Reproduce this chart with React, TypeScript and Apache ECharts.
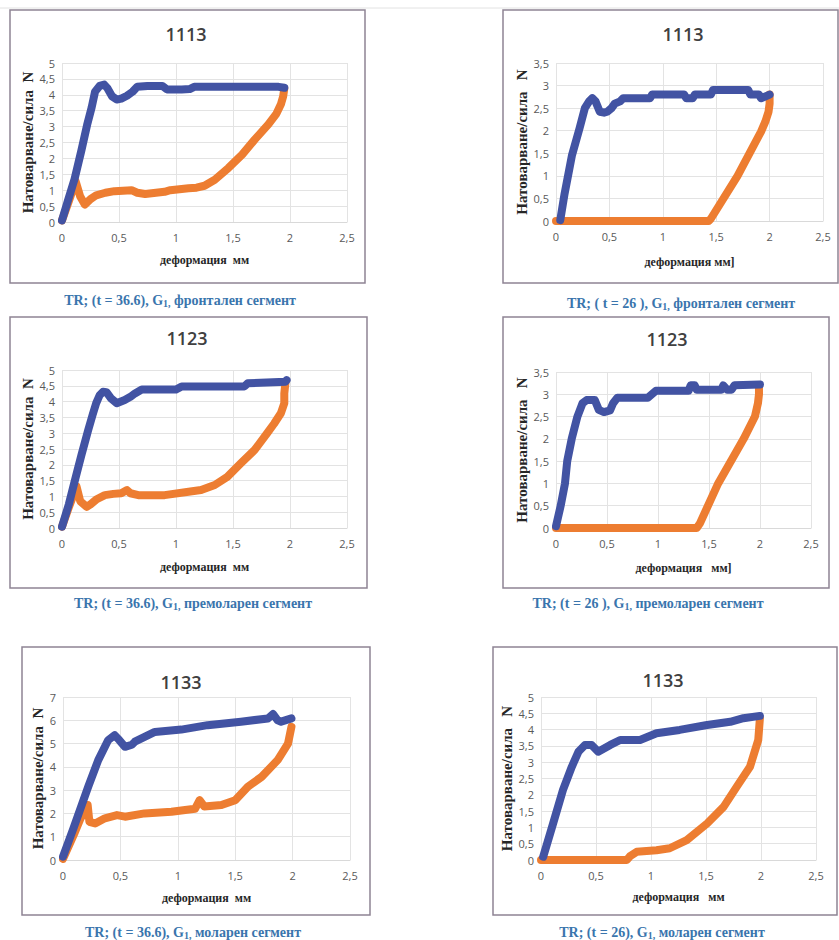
import React, { useEffect, useRef } from "react";
import * as echarts from "echarts";

// ---------- data (deformation mm → load N) ----------
const xTicks = [0, 0.5, 1, 1.5, 2, 2.5];
const titles = ["1113", "1113", "1123", "1123", "1133", "1133"];
const yMaxes = [5, 3.5, 5, 3.5, 7, 5];
const yIntervals = [0.5, 0.5, 0.5, 0.5, 1, 0.5];
const yNames = ["Натоварване/сила  N", "Натоварване/сила   N", "Натоварване/сила  N", "Натоварване/сила   N", "Натоварване/сила  N", "Натоварване/сила   N"];
const xNames = ["деформация  мм", "деформация мм]", "деформация  мм", "деформация   мм]", "деформация  мм", "деформация   мм"];
const captionHeads = ["TR; (t = 36.6), G", "TR; ( t = 26 ), G", "TR; (t = 36.6), G", "TR; (t = 26 ), G", "TR; (t = 36.6), G", "TR; (t = 26), G"];
const captionSubs = ["1,", "1,", "1,", "1,", "1,", "1,"];
const captionTails = [" фронтален сегмент", " фронтален сегмент", " премоларен сегмент", " премоларен сегмент", " моларен сегмент", " моларен сегмент"];

const p1LoadX = [0, 0.05, 0.11, 0.17, 0.22, 0.26, 0.29, 0.33, 0.37, 0.40, 0.44, 0.48, 0.52, 0.57, 0.62, 0.66, 0.75, 0.88, 0.92, 1.05, 1.12, 1.16, 1.4, 1.7, 1.9, 1.95];
const p1LoadY = [0.05, 0.65, 1.35, 2.25, 3.05, 3.6, 4.1, 4.28, 4.32, 4.2, 3.95, 3.85, 3.88, 3.97, 4.1, 4.25, 4.28, 4.28, 4.17, 4.17, 4.18, 4.25, 4.25, 4.25, 4.25, 4.22];
const p1UnloadX = [1.95, 1.94, 1.92, 1.88, 1.81, 1.69, 1.58, 1.46, 1.34, 1.25, 1.18, 1.11, 0.95, 0.90, 0.73, 0.66, 0.61, 0.46, 0.38, 0.30, 0.25, 0.20, 0.16, 0.12, 0.06, 0];
const p1UnloadY = [4.2, 3.95, 3.7, 3.4, 3.07, 2.59, 2.12, 1.70, 1.33, 1.14, 1.08, 1.06, 1.0, 0.95, 0.88, 0.92, 1.0, 0.97, 0.92, 0.84, 0.72, 0.55, 0.8, 1.28, 0.65, 0.05];

const p2LoadX = [0.04, 0.08, 0.15, 0.22, 0.27, 0.31, 0.34, 0.37, 0.41, 0.45, 0.48, 0.52, 0.55, 0.6, 0.63, 0.88, 0.9, 1.2, 1.22, 1.28, 1.3, 1.45, 1.47, 1.8, 1.82, 1.9, 1.92, 2.0];
const p2LoadY = [0.02, 0.6, 1.46, 2.05, 2.5, 2.65, 2.72, 2.65, 2.42, 2.4, 2.42, 2.5, 2.6, 2.65, 2.72, 2.72, 2.8, 2.8, 2.72, 2.72, 2.8, 2.8, 2.9, 2.9, 2.8, 2.8, 2.72, 2.8];
const p2UnloadX = [2.0, 2.0, 1.99, 1.96, 1.92, 1.70, 1.45, 1.43, 0.7, 0];
const p2UnloadY = [2.8, 2.6, 2.42, 2.2, 1.98, 1.0, 0.05, 0, 0, 0];

const p3LoadX = [0, 0.06, 0.114, 0.17, 0.23, 0.27, 0.30, 0.33, 0.36, 0.39, 0.43, 0.48, 0.55, 0.60, 0.64, 0.70, 1.0, 1.05, 1.6, 1.63, 1.96, 1.97];
const p3LoadY = [0.04, 0.75, 1.52, 2.3, 3.1, 3.6, 3.95, 4.2, 4.31, 4.3, 4.1, 3.95, 4.05, 4.15, 4.26, 4.38, 4.38, 4.48, 4.48, 4.58, 4.63, 4.68];
const p3UnloadX = [1.96, 1.95, 1.95, 1.92, 1.86, 1.80, 1.69, 1.57, 1.45, 1.34, 1.22, 1.11, 0.90, 0.67, 0.60, 0.57, 0.52, 0.45, 0.376, 0.30, 0.25, 0.216, 0.16, 0.128, 0.06, 0];
const p3UnloadY = [4.6, 4.26, 3.95, 3.63, 3.3, 3.0, 2.47, 2.05, 1.62, 1.36, 1.2, 1.15, 1.04, 1.04, 1.1, 1.2, 1.1, 1.08, 1.04, 0.9, 0.75, 0.67, 0.85, 1.31, 0.65, 0.04];

const p4LoadX = [0, 0.046, 0.088, 0.11, 0.154, 0.21, 0.26, 0.3, 0.38, 0.42, 0.47, 0.53, 0.56, 0.6, 0.9, 0.98, 1.3, 1.32, 1.36, 1.38, 1.62, 1.64, 1.68, 1.72, 1.75, 2.0];
const p4LoadY = [0.04, 0.5, 1.0, 1.5, 2.0, 2.5, 2.8, 2.87, 2.87, 2.65, 2.6, 2.64, 2.8, 2.92, 2.92, 3.08, 3.08, 3.2, 3.2, 3.1, 3.1, 3.2, 3.1, 3.1, 3.2, 3.22];
const p4UnloadX = [1.99, 1.99, 1.98, 1.95, 1.84, 1.59, 1.41, 1.38, 0.7, 0];
const p4UnloadY = [3.2, 3.0, 2.8, 2.5, 2.0, 1.0, 0.1, 0, 0, 0];

const p5LoadX = [0, 0.09, 0.22, 0.307, 0.394, 0.45, 0.49, 0.54, 0.6, 0.626, 0.8, 1.03, 1.26, 1.55, 1.785, 1.83, 1.87, 1.9, 1.99];
const p5LoadY = [0.14, 1.35, 3.15, 4.29, 5.15, 5.36, 5.15, 4.86, 4.95, 5.08, 5.5, 5.6, 5.79, 5.94, 6.08, 6.27, 6.0, 5.94, 6.08];
const p5UnloadX = [1.99, 1.96, 1.87, 1.73, 1.61, 1.50, 1.38, 1.23, 1.19, 1.15, 0.945, 0.71, 0.54, 0.47, 0.365, 0.28, 0.23, 0.215, 0.15, 0.104, 0];
const p5UnloadY = [5.72, 5.0, 4.29, 3.57, 3.15, 2.57, 2.36, 2.3, 2.57, 2.2, 2.07, 2.0, 1.86, 1.93, 1.79, 1.57, 1.64, 2.36, 1.75, 1.2, 0.05];

const p6LoadX = [0.02, 0.11, 0.2, 0.28, 0.34, 0.40, 0.46, 0.52, 0.63, 0.72, 0.90, 1.05, 1.26, 1.51, 1.72, 1.84, 1.99];
const p6LoadY = [0.1, 1.12, 2.15, 2.86, 3.32, 3.53, 3.53, 3.32, 3.53, 3.68, 3.68, 3.89, 3.99, 4.14, 4.24, 4.35, 4.42];
const p6UnloadX = [1.99, 1.975, 1.9, 1.78, 1.66, 1.51, 1.325, 1.17, 1.05, 0.87, 0.81, 0.78, 0.4, 0];
const p6UnloadY = [4.35, 3.68, 2.86, 2.25, 1.63, 1.12, 0.61, 0.36, 0.3, 0.25, 0.12, 0, 0, 0];

const loadXs = [p1LoadX, p2LoadX, p3LoadX, p4LoadX, p5LoadX, p6LoadX];
const loadYs = [p1LoadY, p2LoadY, p3LoadY, p4LoadY, p5LoadY, p6LoadY];
const unloadXs = [p1UnloadX, p2UnloadX, p3UnloadX, p4UnloadX, p5UnloadX, p6UnloadX];
const unloadYs = [p1UnloadY, p2UnloadY, p3UnloadY, p4UnloadY, p5UnloadY, p6UnloadY];

// ---------- layout ----------
const grids = [
  { left: 62, top: 63, width: 285, height: 159 },
  { left: 556, top: 63, width: 267, height: 158 },
  { left: 62, top: 370, width: 285, height: 158 },
  { left: 556, top: 372, width: 255, height: 156 },
  { left: 63, top: 697, width: 287, height: 163 },
  { left: 541, top: 697, width: 275, height: 163 },
];
const boxes = [
  [10, 10, 355, 273],
  [503, 10, 335, 273],
  [10, 317, 357, 271],
  [503, 317, 326, 271],
  [22, 647, 348, 268],
  [493, 647, 344, 268],
];
const titlePos = [[186, 34], [683, 34], [187, 338], [667, 339], [181, 682], [663, 680]];
const captionPos = [[180, 300], [681, 303], [193, 603], [648, 603], [193, 932], [662, 932]];
const yNameGaps = [21, 23, 24, 23, 15, 21];
const xNameGaps = [32, 35, 33, 34, 32, 31];

const BLUE = "#4253a3";
const ORANGE = "#ed7d31";
const zip = (xs: number[], ys: number[]) => xs.map((x, i) => [x, ys[i]]);
const fmt = (v: number) => String(v).replace(".", ",");

export default function App() {
  const ref = useRef<HTMLDivElement>(null);
  useEffect(() => {
    if (!ref.current) return;
    const chart = echarts.init(ref.current, undefined, { renderer: "svg" });
    const tickFont = { fontFamily: "Open Sans", fontSize: 11, color: "#595959" };
    const option: any = {
      animation: false,
      backgroundColor: "#ffffff",
      grid: grids.map((g) => ({ ...g, containLabel: false })),
      xAxis: grids.map((_, i) => ({
        type: "value",
        gridIndex: i,
        min: xTicks[0],
        max: xTicks[xTicks.length - 1],
        interval: 0.5,
        name: xNames[i],
        nameLocation: "middle",
        nameGap: xNameGaps[i],
        nameTextStyle: { fontFamily: "Liberation Serif", fontWeight: "bold", fontSize: 12, color: "#262626" },
        axisLine: { show: true, lineStyle: { color: "#d9d9d9", width: 1 } },
        axisTick: { show: false },
        splitLine: { show: true, lineStyle: { color: "#e3e3e3", width: 1 } },
        axisLabel: { ...tickFont, margin: 10, formatter: fmt },
      })),
      yAxis: grids.map((_, i) => ({
        type: "value",
        gridIndex: i,
        min: 0,
        max: yMaxes[i],
        interval: yIntervals[i],
        name: yNames[i],
        nameLocation: "middle",
        nameRotate: 90,
        nameGap: yNameGaps[i],
        nameTextStyle: { fontFamily: "Liberation Serif", fontWeight: "bold", fontSize: 15, color: "#262626" },
        axisLine: { show: false },
        axisTick: { show: false },
        splitLine: { show: true, lineStyle: { color: "#e3e3e3", width: 1 } },
        axisLabel: { ...tickFont, margin: 7, formatter: fmt },
      })),
      series: grids.flatMap((_, i) => [
        {
          type: "line",
          xAxisIndex: i,
          yAxisIndex: i,
          data: zip(unloadXs[i], unloadYs[i]),
          symbol: "none",
          clip: false,
          lineStyle: { color: ORANGE, width: 8, cap: "round", join: "round" },
          z: 2,
        },
        {
          type: "line",
          xAxisIndex: i,
          yAxisIndex: i,
          data: zip(loadXs[i], loadYs[i]),
          symbol: "none",
          clip: false,
          lineStyle: { color: BLUE, width: 8, cap: "round", join: "round" },
          z: 3,
        },
      ]),
      graphic: [
        { type: "line", shape: { x1: 0, y1: 8, x2: 839, y2: 8 }, style: { stroke: "#e2e2e2", lineWidth: 1 }, silent: true },
        ...boxes.map((b) => ({
          type: "rect",
          shape: { x: b[0], y: b[1], width: b[2], height: b[3] },
          style: { fill: "none", stroke: "#8e8494", lineWidth: 1.5 },
          silent: true,
        })),
        ...titles.map((t, i) => ({
          type: "text",
          x: titlePos[i][0],
          y: titlePos[i][1],
          style: {
            text: t,
            fontFamily: "Open Sans",
            fontWeight: 600,
            fontSize: 18,
            fill: "#404040",
            align: "center",
            verticalAlign: "middle",
          },
          silent: true,
        })),
        ...captionHeads.map((h, i) => ({
          type: "text",
          x: captionPos[i][0],
          y: captionPos[i][1],
          style: {
            text: `{m|${h}}{s|${captionSubs[i]}}{m|${captionTails[i]}}`,
            align: "center",
            verticalAlign: "middle",
            rich: {
              m: { fontFamily: "Liberation Serif", fontWeight: "bold", fontSize: 14, fill: "#3a75ad", lineHeight: 17, verticalAlign: "middle" },
              s: { fontFamily: "Liberation Serif", fontWeight: "bold", fontSize: 10, fill: "#3a75ad", lineHeight: 9, verticalAlign: "bottom" },
            },
          },
          silent: true,
        })),
      ],
    };
    chart.setOption(option);
    return () => chart.dispose();
  }, []);
  return (
    <div
      ref={ref}
      style={{ position: "absolute", left: 0, top: 0, width: 839, height: 940, background: "#fff" }}
    />
  );
}
